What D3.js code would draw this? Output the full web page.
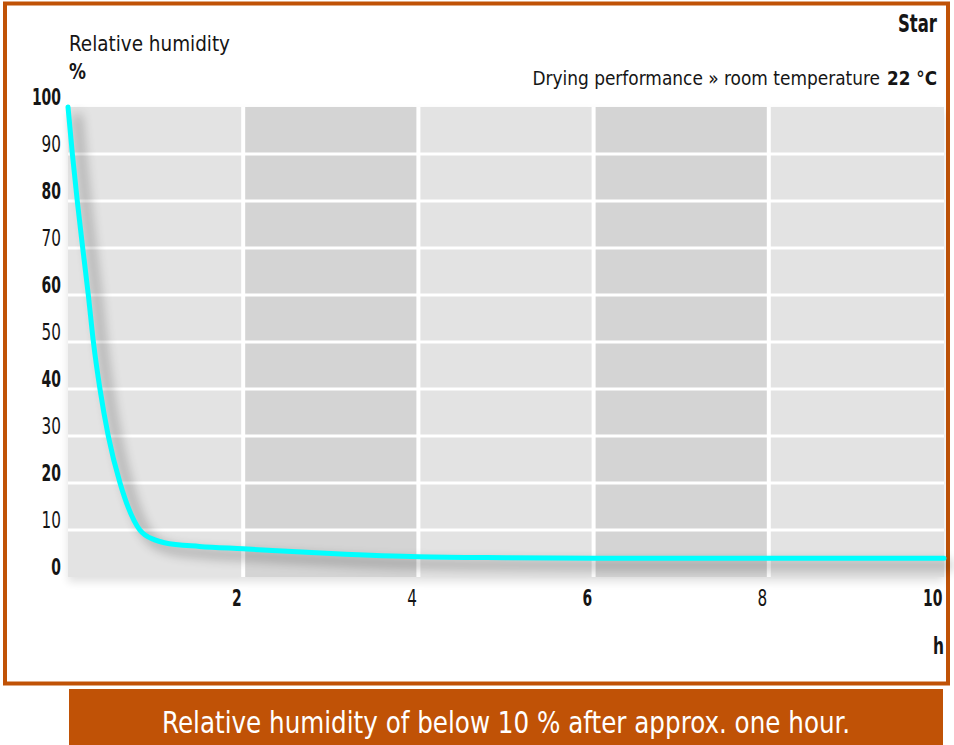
<!DOCTYPE html>
<html><head><meta charset="utf-8">
<script src="https://cdn.jsdelivr.net/npm/d3@7"></script>
<style>
html,body{margin:0;padding:0;background:#fff;}
svg{display:block;}
text{font-family:"DejaVu Sans Condensed","DejaVu Sans",sans-serif;font-stretch:condensed;fill:#151515;}
</style></head>
<body>
<script>
// ---- data ----
const hours    = [0, 0.05, 0.106, 0.168, 0.232, 0.29, 0.365, 0.46, 0.594, 0.82, 0.99, 1.1, 1.5, 2, 3, 4, 5, 6, 8, 10];
const humidity = [100, 90, 80, 70, 60, 50, 40, 30, 20, 10, 7.9, 7.3, 6.5, 6.0, 5.0, 4.3, 4.1, 4.0, 4.0, 4.0];
const xTicks = [2, 4, 6, 8, 10];
const xBold  = [2, 6, 10];
const yTicks = [0, 10, 20, 30, 40, 50, 60, 70, 80, 90, 100];
const yBold  = [0, 20, 40, 60, 80, 100];
const bands  = [[0,2],[2,4],[4,6],[6,8],[8,10]];
const titleRight = "Star";
const subtitle = "Drying performance » room temperature";
const subtitleBold = "22 °C";
const yTitle = "Relative humidity";
const yUnit = "%";
const xUnit = "h";
const banner = "Relative humidity of below 10 % after approx. one hour.";

const W = 954, H = 745;
const orange = "#c05206";
const FONT = '"DejaVu Sans Condensed","DejaVu Sans",sans-serif';
const svg = d3.select("body").append("svg").attr("width", W).attr("height", H);

const defs = svg.append("defs");
const f1 = defs.append("filter").attr("id","curveShadow").attr("x","-20%").attr("y","-20%").attr("width","150%").attr("height","150%");
f1.append("feGaussianBlur").attr("in","SourceAlpha").attr("stdDeviation",6).attr("result","b");
f1.append("feOffset").attr("in","b").attr("dx",9).attr("dy",7).attr("result","o");
f1.append("feComponentTransfer").attr("in","o").attr("result","s")
  .append("feFuncA").attr("type","linear").attr("slope",0.32);
const m1 = f1.append("feMerge"); m1.append("feMergeNode").attr("in","s");
const f2 = defs.append("filter").attr("id","plotShadow").attr("x","-5%").attr("y","-5%").attr("width","110%").attr("height","115%");
f2.append("feGaussianBlur").attr("in","SourceAlpha").attr("stdDeviation",4).attr("result","b");
f2.append("feOffset").attr("in","b").attr("dx",0).attr("dy",5).attr("result","o");
f2.append("feComponentTransfer").attr("in","o").attr("result","s")
  .append("feFuncA").attr("type","linear").attr("slope",0.12);
const m2 = f2.append("feMerge"); m2.append("feMergeNode").attr("in","s"); m2.append("feMergeNode").attr("in","SourceGraphic");

// frame
svg.append("rect").attr("x",5).attr("y",3.5).attr("width",943).attr("height",680)
  .attr("fill","none").attr("stroke",orange).attr("stroke-width",4);

const x = d3.scaleLinear().domain([0,10]).range([68,944]);
const y = d3.scaleLinear().domain([0,100]).range([577,107]);

// background bands
const bg = svg.append("g").attr("filter","url(#plotShadow)");
bg.selectAll("rect").data(bands).join("rect")
  .attr("x", d => x(d[0])).attr("y", y(100))
  .attr("width", d => x(d[1]) - x(d[0])).attr("height", y(0) - y(100))
  .attr("fill", (d,i) => i % 2 ? "#d4d4d4" : "#e3e3e3");

// grid
svg.append("g").selectAll("line").data(yTicks.filter(v => v > 0 && v < 100)).join("line")
  .attr("x1", x(0)).attr("x2", x(10)).attr("y1", d => y(d)).attr("y2", d => y(d))
  .attr("stroke","#fff").attr("stroke-width",3);
svg.append("g").selectAll("line").data(xTicks.filter(v => v < 10)).join("line")
  .attr("x1", d => x(d)).attr("x2", d => x(d)).attr("y1", y(100)).attr("y2", y(0))
  .attr("stroke","#fff").attr("stroke-width",4);

// curve
const pts = hours.map((h,i) => [h, humidity[i]]);
const line = d3.line().x(d => x(d[0])).y(d => y(d[1])).curve(d3.curveMonotoneX);
svg.append("path").datum(pts).attr("d", line).attr("fill","none")
  .attr("stroke","#000").attr("stroke-width",7).attr("filter","url(#curveShadow)");
svg.append("path").datum(pts).attr("d", line).attr("fill","none")
  .attr("stroke","#00ffff").attr("stroke-width",5).attr("stroke-linecap","round");

// axes
const yAxis = svg.append("g").attr("transform","translate(61,0)")
  .call(d3.axisLeft(y).tickValues(yTicks).tickSize(0).tickPadding(0).tickFormat(d3.format("d")));
yAxis.select(".domain").remove();
yAxis.selectAll("text").attr("dy","-0.09em").attr("font-size",23)
  .style("font-family",FONT).style("font-stretch","condensed")
  .attr("fill","#151515")
  .attr("font-weight", d => yBold.includes(d) ? "bold" : "normal")
  .attr("textLength", d => String(d).length * 9.7).attr("lengthAdjust","spacingAndGlyphs");

const xAxis = svg.append("g").attr("transform","translate(-2,606)")
  .call(d3.axisBottom(x).tickValues(xTicks).tickSize(0).tickPadding(0).tickFormat(d3.format("d")));
xAxis.select(".domain").remove();
xAxis.selectAll("text").attr("dy",0).attr("y",0).attr("text-anchor","end").attr("font-size",23)
  .style("font-family",FONT).style("font-stretch","condensed")
  .attr("fill","#151515")
  .attr("font-weight", d => xBold.includes(d) ? "bold" : "normal")
  .attr("textLength", d => String(d).length * 9.7).attr("lengthAdjust","spacingAndGlyphs");

// titles
function txt(xp, yp, s, size, bold, anchor, len, fill) {
  const t = svg.append("text").attr("x",xp).attr("y",yp).attr("font-size",size)
    .attr("text-anchor",anchor).attr("font-weight",bold ? "bold" : "normal").text(s);
  if (len) t.attr("textLength",len).attr("lengthAdjust","spacingAndGlyphs");
  if (fill) t.style("fill",fill);
  return t;
}
// fit font size to a target width without stretching glyphs
function fitTxt(xEnd, yp, s, size, bold, target) {
  const t = svg.append("text").attr("x",xEnd).attr("y",yp).attr("font-size",size)
    .attr("text-anchor","end").attr("font-weight",bold ? "bold" : "normal").text(s);
  const w = t.node().getComputedTextLength();
  if (w > 0) t.attr("font-size", Math.min(size, size * target / w));
  return t;
}
txt(69, 51, yTitle, 22, false, "start", 161);
txt(69, 79, yUnit, 22, true, "start", 17);
txt(937, 32, titleRight, 24, true, "end", 39);
fitTxt(937, 85, subtitleBold, 22, true, 50);
fitTxt(880, 85, subtitle, 23, false, 348);
txt(944, 654, xUnit, 23, true, "end", 11);

// banner
svg.append("rect").attr("x",69).attr("y",689).attr("width",874).attr("height",56).attr("fill",orange);
txt(162, 733, banner, 31, false, "start", 688, "#fff");
</script>
</body></html>
